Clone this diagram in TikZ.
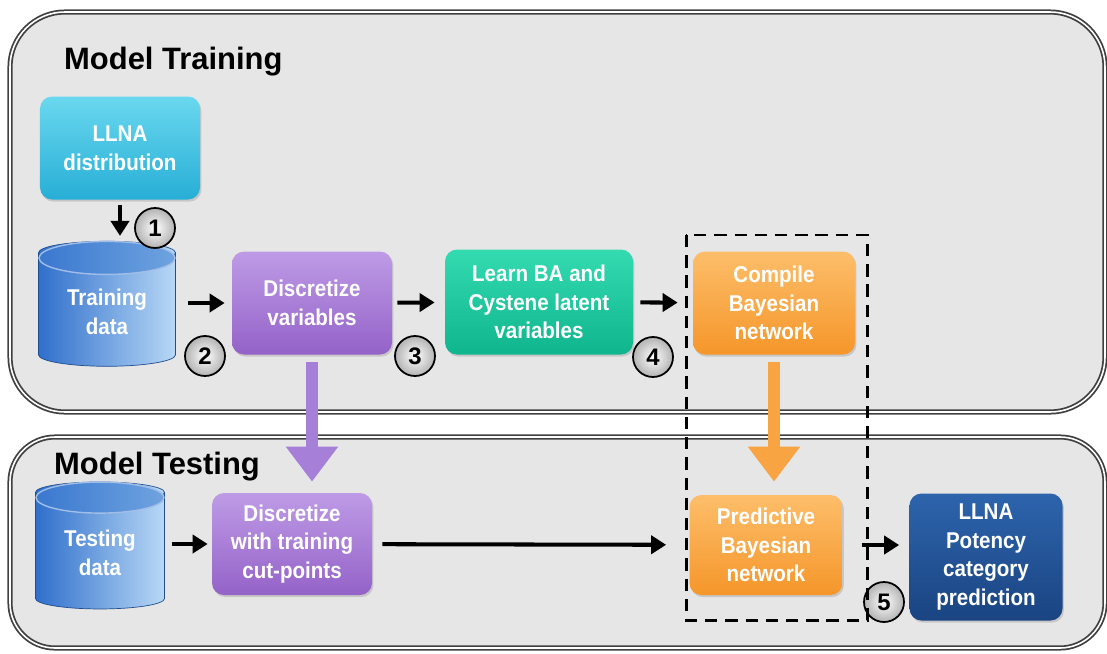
\documentclass[tikz,border=0pt]{standalone}
\usepackage{fontspec}
\setmainfont{Liberation Sans}
\newfontfamily\cajafont[FakeStretch=0.9]{Liberation Sans}
\usetikzlibrary{arrows.meta, positioning, calc, shapes.geometric, shadows}

\definecolor{panelgris}{HTML}{E6E6E6}
\definecolor{cianA}{HTML}{6AD8EF}
\definecolor{cianB}{HTML}{27AED6}
\definecolor{moradoA}{HTML}{BE9BE6}
\definecolor{moradoB}{HTML}{9462C8}
\definecolor{verdeA}{HTML}{34DAB0}
\definecolor{verdeB}{HTML}{0FB58C}
\definecolor{naranjaA}{HTML}{FDBE6A}
\definecolor{naranjaB}{HTML}{F5962A}
\definecolor{azulA}{HTML}{2D64AC}
\definecolor{azulB}{HTML}{1A4482}
\definecolor{cilA}{HTML}{2F6FCB}
\definecolor{cilB}{HTML}{B8D8F6}
\definecolor{tapaA}{HTML}{3A78CF}
\definecolor{tapaB}{HTML}{6FA3E0}
\definecolor{flechaMorado}{HTML}{A67FD8}
\definecolor{flechaNaranja}{HTML}{F8A443}

\begin{document}
\begin{tikzpicture}[
        x=0.2mm, y=-0.2mm,
        panel/.style={
            fill=panelgris,
            draw=black!75,
            line width=1pt,
            double=white,
            double distance=0.9pt
        },
        titulo/.style={
            anchor=west,
            font=\bfseries\fontsize{17.6}{20}\selectfont
        },
        paso/.style={
            rectangle,
            rounded corners=0.24cm,
            align=center,
            text=white,
            font=\cajafont\bfseries\fontsize{13}{16.4}\selectfont,
            inner sep=2pt,
            drop shadow={opacity=0.3, shadow xshift=0.8pt, shadow yshift=-1.2pt}
        },
        datos/.style={
            cylinder,
            shape border rotate=90,
            aspect=0.25,
            align=center,
            text=white,
            font=\cajafont\bfseries\fontsize{13}{16.4}\selectfont,
            left color=cilA,
            right color=cilB,
            draw=cilA!70!black,
            line width=0.4pt
        },
        tapa/.style={left color=tapaA, right color=tapaB, draw=white!55!cilA, line width=0.8pt},
        num/.style={
            circle,
            draw=black,
            line width=1pt,
            inner color=white,
            outer color=black!30,
            minimum size=0.8cm,
            inner sep=0pt,
            font=\bfseries\fontsize{13.6}{14}\selectfont
        },
        flecha/.style={-{Triangle[length=0.3cm, width=0.36cm]}, line width=2.3pt, draw=black},
        gruesa/.style={line width=0.25cm, -{Triangle[length=0.7cm, width=1cm]}},
        marco/.style={draw=black, line width=1.7pt, dash pattern=on 7pt off 4.5pt}
    ]
        \useasboundingbox (0,0) rectangle (1107,653);

        \draw[panel, rounded corners=1.1cm] (10,12) rectangle (1105,412);
        \draw[panel, rounded corners=0.9cm] (10,437) rectangle (1105,648);

        \node[titulo] (tentrena) at (58,62) {Model Training};
        \node[titulo] (tprueba) at (48,467) {Model Testing};

        \node[paso, top color=cianA, bottom color=cianB,
              minimum width=3.2cm, minimum height=2.06cm] (llna) at (120,148) {
            LLNA\\distribution
        };

        \node[datos, minimum width=2.74cm, minimum height=2.5cm] (entrena) at (107,312) {
            Training\\data
        };
        \draw[tapa] ($(entrena.top)+(0,17)$) ellipse [x radius=1.36cm, y radius=0.33cm];

        \node[paso, top color=moradoA, bottom color=moradoB,
              minimum width=3.2cm, minimum height=2.06cm] (discret) at (312,303) {
            Discretize\\variables
        };

        \node[paso, top color=verdeA, bottom color=verdeB,
              minimum width=3.76cm, minimum height=2.1cm] (latente) at (539,302) {
            Learn BA and\\Cystene latent\\variables
        };

        \node[paso, top color=naranjaA, bottom color=naranjaB,
              minimum width=3.24cm, minimum height=2.06cm] (compila) at (774,303) {
            Compile\\Bayesian\\network
        };

        \node[datos, minimum width=2.58cm, minimum height=2.54cm] (prueba) at (100,553) {
            Testing\\data
        };
        \draw[tapa] ($(prueba.top)+(0,16)$) ellipse [x radius=1.28cm, y radius=0.31cm];

        \node[paso, top color=moradoA, bottom color=moradoB,
              minimum width=3.2cm, minimum height=2.04cm] (discprueba) at (292,544) {
            Discretize\\with training\\cut-points
        };

        \node[paso, top color=naranjaA, bottom color=naranjaB,
              minimum width=3.06cm, minimum height=2cm] (predice) at (766,545) {
            Predictive\\Bayesian\\network
        };

        \node[paso, top color=azulA, bottom color=azulB,
              minimum width=3.06cm, minimum height=2.54cm] (potencia) at (986,557) {
            LLNA\\Potency\\category\\prediction
        };

        \node[num] (n1) at (155,228) {1};
        \node[num] (n2) at (205,356) {2};
        \node[num] (n3) at (415,356) {3};
        \node[num] (n4) at (653,357) {4};
        \node[num] (n5) at (884,602) {5};

        \draw[flecha, shorten <=0.1cm, shorten >=0.1cm] (llna.south) -- (llna.south |- entrena.north);
        \draw[flecha, shorten <=0.24cm, shorten >=0.14cm] (entrena.east |- discret.west) -- (discret.west);
        \draw[flecha, shorten <=0.1cm, shorten >=0.2cm] (discret) -- (latente);
        \draw[flecha, shorten <=0.14cm, shorten >=0.3cm] (latente) -- (compila);
        \draw[flecha, shorten <=0.14cm, shorten >=0.08cm] (prueba.east |- discprueba.west) -- (discprueba.west);
        \draw[flecha, shorten <=0.2cm, shorten >=0.46cm] (discprueba) -- (predice);
        \draw[flecha, shorten <=0.38cm, shorten >=0.2cm] (predice) -- (predice -| potencia.west);

        \draw[gruesa, draw=flechaMorado, shorten <=0.14cm, shorten >=0.22cm] (discret.south) -- (discprueba.north -| discret.south);
        \draw[gruesa, draw=flechaNaranja, shorten <=0.14cm, shorten >=0.26cm] (compila.south) -- (predice.north -| compila.south);

        \draw[marco] (686,235) rectangle (867,620);
    \end{tikzpicture}
\end{document}
